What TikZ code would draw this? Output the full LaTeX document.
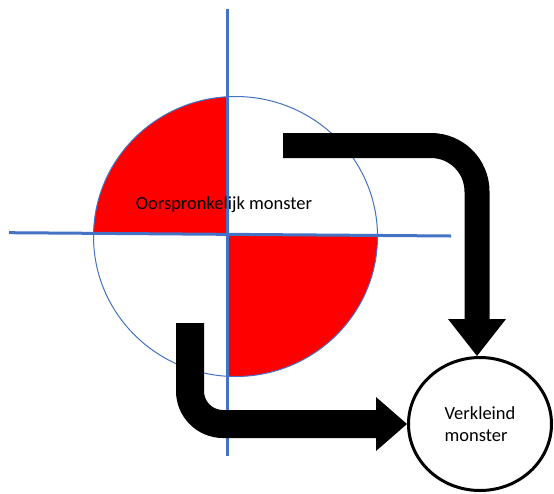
\documentclass[tikz,border=0pt]{standalone}
\usepackage{fontspec}
\setmainfont{Carlito}
\usetikzlibrary{arrows.meta, shapes.geometric}
\definecolor{officeblue}{HTML}{4472C4}

\begin{document}
\begin{tikzpicture}[x = 1pt, y = -1pt, font = \fontsize{18.5}{21.5}\selectfont]

	% Styles

	\tikzset{
		axis/.style = {draw = officeblue, line width = 3pt},
		flow/.style = {draw = black, line width = 25pt, rounded corners = 46pt},
	}

	\useasboundingbox (0, 0) rectangle (554, 493);

	% Red quadrants of the sample

	\begin{scope}
		\clip (235.5, 236.5) ellipse [x radius = 142pt, y radius = 140pt];
		\fill [red] (227.5, 234.3) -- (0, 232.6) -- (0, 0) -- (227.5, 0) -- cycle;
		\fill [red] (227.5, 234.3) -- (554, 236.7) -- (554, 493) -- (227.5, 493) -- cycle;
	\end{scope}

	\node [ellipse, draw = officeblue, line width = 1pt, minimum width = 284pt, minimum height = 280pt, inner sep = 0] (orig) at (235.5, 236.5) {};

	% Cross

	\coordinate (hleft) at (9, 232.7);
	\coordinate (hright) at (451, 236);
	\coordinate (vtop) at (227.5, 9);
	\coordinate (vbottom) at (227.5, 456);

	\draw [axis] (hleft) -- (hright);
	\draw [axis] (vtop) -- (vbottom);

	\node [anchor = base] (origtext) at (224, 209) {Oorspronkelijk monster};

	% Reduced sample

	\node [ellipse, draw, line width = 3pt, minimum width = 143pt, minimum height = 133pt, inner sep = 0, align = left] (vk) at (480, 424) {Verkleind\\monster};

	% Arrows

	\coordinate (src1) at (283, 145.5);
	\coordinate (src2) at (190, 323);

	\draw [flow, -{Triangle[length = 37pt, width = 58pt, line width = 0pt]}] (src1) -| ([xshift = -3pt] vk.north);
	\draw [flow, line width = 28pt, rounded corners = 33pt, -{Triangle[length = 31pt, width = 54pt, line width = 0pt]}] (src2) |- (vk.west);

\end{tikzpicture}
\end{document}
